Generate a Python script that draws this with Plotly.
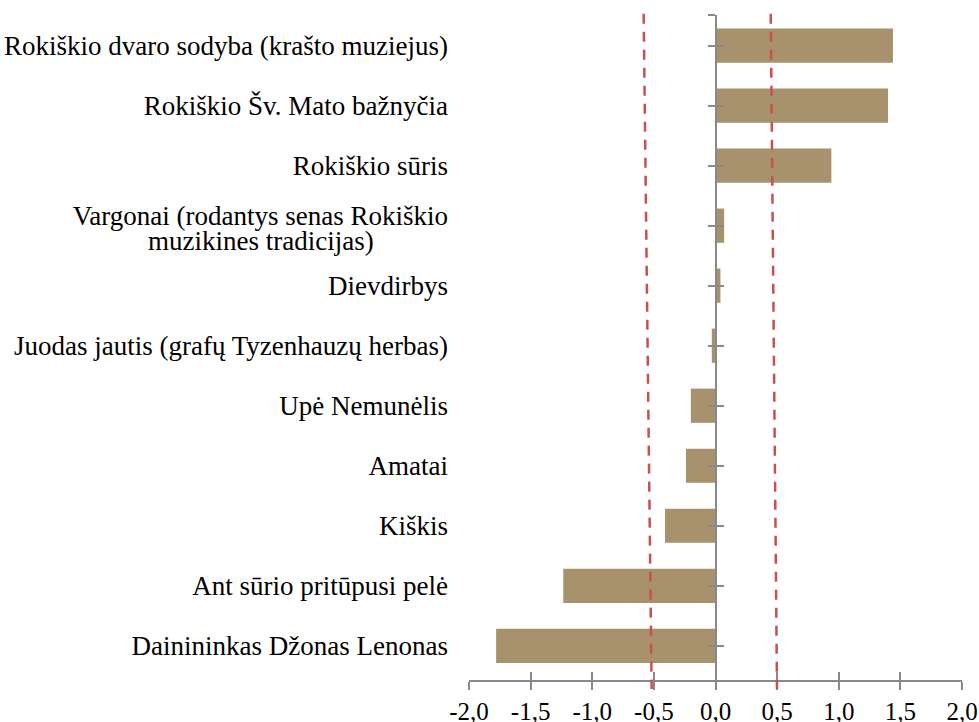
import plotly.graph_objects as go

categories = [
    "Rokiškio dvaro sodyba (krašto muziejus)",
    "Rokiškio Šv. Mato bažnyčia",
    "Rokiškio sūris",
    "Vargonai (rodantys senas Rokiškio muzikines tradicijas)",
    "Dievdirbys",
    "Juodas jautis (grafų Tyzenhauzų herbas)",
    "Upė Nemunėlis",
    "Amatai",
    "Kiškis",
    "Ant sūrio pritūpusi pelė",
    "Dainininkas Džonas Lenonas",
]
values = [1.44, 1.40, 0.94, 0.07, 0.04, -0.03, -0.20, -0.24, -0.41, -1.235, -1.78]

# the long label is wrapped onto two lines, as in the original
wrapped_index = 3
wrapped_lines = ["Vargonai (rodantys senas Rokiškio", "muzikines tradicijas)"]

x_tickvals = [-2.0, -1.5, -1.0, -0.5, 0.0, 0.5, 1.0, 1.5, 2.0]
x_ticktext = ["-2,0", "-1,5", "-1,0", "-0,5", "0,0", "0,5", "1,0", "1,5", "2,0"]

# threshold reference lines (top and bottom x of each dashed line)
threshold_top = [-0.583, 0.448]
threshold_bottom = [-0.518, 0.499]

FONT = "Liberation Serif"
BAR_COLOR = "#A8916D"
AXIS_COLOR = "#898989"

pos = list(range(len(categories)))
y_range = [len(categories) - 1 + 0.57, -0.51]

main_ticktext = [("" if i == wrapped_index else c) for i, c in enumerate(categories)]
wrap_vals = [wrapped_index - 0.17, wrapped_index + 0.245]
wrap_text = [wrapped_lines[0], wrapped_lines[1] + "\u00a0" * 11]

fig = go.Figure()
fig.add_trace(go.Bar(
    x=values, y=pos, orientation="h",
    marker=dict(color=BAR_COLOR, line=dict(width=0)),
    width=0.57, showlegend=False, hoverinfo="x+y",
))

common_hidden = dict(showgrid=False, zeroline=False, automargin=False)

fig.update_layout(
    width=979, height=722,
    margin=dict(l=469, r=17, t=15, b=42, pad=0, autoexpand=False),
    paper_bgcolor="white", plot_bgcolor="white",
    font=dict(family=FONT, size=27, color="#000000"),
    bargap=0.43,
    xaxis=dict(
        range=[-2, 2], tickvals=x_tickvals, ticktext=x_ticktext, **common_hidden,
        showline=True, linecolor=AXIS_COLOR, linewidth=1.5,
        ticks="outside", ticklen=8, tickwidth=1.5, tickcolor=AXIS_COLOR,
        tickfont=dict(family=FONT, size=25, color="#000"),
    ),
    xaxis2=dict(
        range=[-2, 2], tickvals=x_tickvals, overlaying="x", anchor="y", **common_hidden,
        showline=False, showticklabels=False,
        ticks="inside", ticklen=8, tickwidth=1.5, tickcolor=AXIS_COLOR,
    ),
    yaxis=dict(
        range=y_range, tickvals=pos, ticktext=main_ticktext, **common_hidden,
        showline=False, ticks="", ticklabelstandoff=20,
        tickfont=dict(family=FONT, size=27, color="#000"),
    ),
    yaxis2=dict(
        range=y_range, tickvals=[-0.51] + pos, overlaying="y", anchor="free", position=0.5,
        **common_hidden,
        showline=True, linecolor=AXIS_COLOR, linewidth=1.5,
        showticklabels=False, ticks="outside", ticklen=7, tickwidth=1.5, tickcolor=AXIS_COLOR,
    ),
    yaxis3=dict(
        range=y_range, tickvals=[-0.51] + pos, overlaying="y", anchor="free", position=0.5,
        **common_hidden,
        showline=False, showticklabels=False,
        ticks="inside", ticklen=7, tickwidth=1.5, tickcolor=AXIS_COLOR,
    ),
    yaxis4=dict(
        range=y_range, tickvals=wrap_vals, ticktext=wrap_text, overlaying="y", anchor="x",
        **common_hidden,
        showline=False, ticks="", ticklabelstandoff=20,
        tickfont=dict(family=FONT, size=27, color="#000"),
    ),
)

# invisible traces to activate overlay axes
fig.add_trace(go.Scatter(x=[None], y=[None], xaxis="x2", yaxis="y", showlegend=False, hoverinfo="skip"))
fig.add_trace(go.Scatter(x=[None], y=[None], xaxis="x", yaxis="y2", showlegend=False, hoverinfo="skip"))
fig.add_trace(go.Scatter(x=[None], y=[None], xaxis="x", yaxis="y3", showlegend=False, hoverinfo="skip"))
fig.add_trace(go.Scatter(x=[None], y=[None], xaxis="x", yaxis="y4", showlegend=False, hoverinfo="skip"))

for xt, xb in zip(threshold_top, threshold_bottom):
    fig.add_shape(
        type="line", xref="x", yref="paper",
        x0=xt, y0=1.002, x1=xb, y1=-0.0135,
        line=dict(color="#C9504F", width=2.5, dash="10px,8px"),
        layer="above",
    )

fig.write_html(
    "out.html",
    config={"displayModeBar": False},
    post_script="document.body.style.margin='0';document.body.style.overflow='hidden';",
)
